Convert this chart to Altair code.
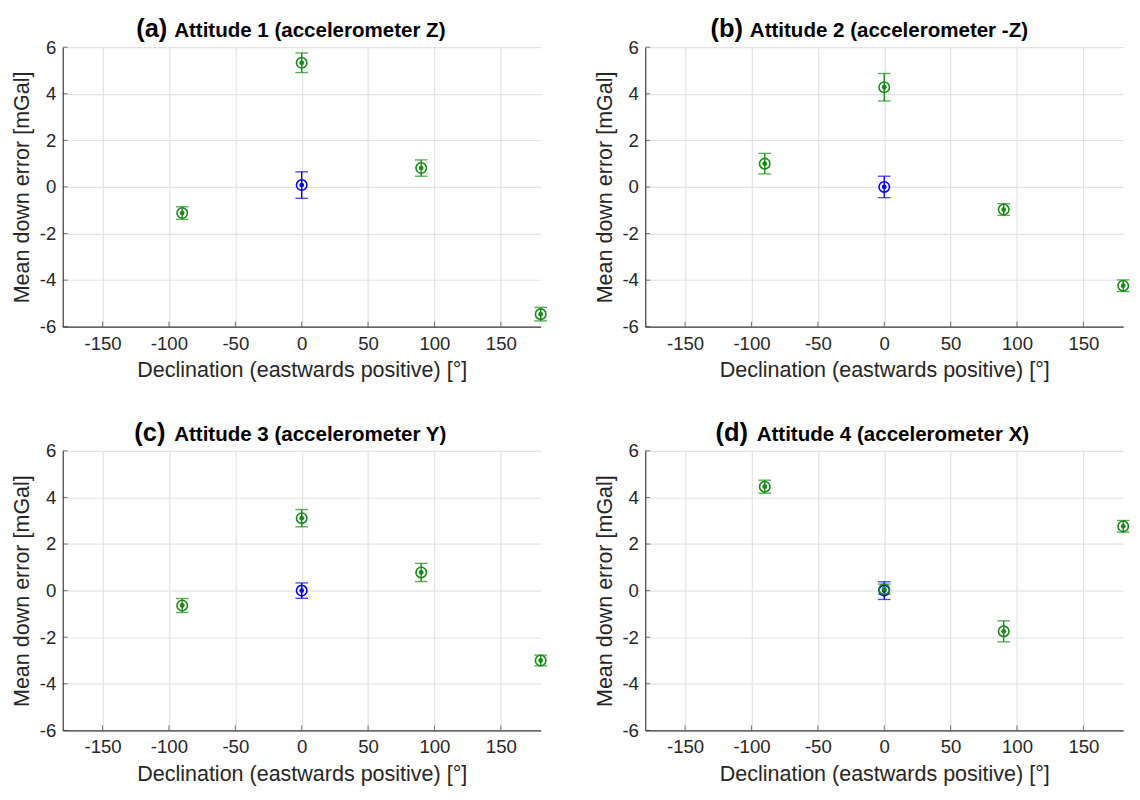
import altair as alt
import pandas as pd

# ---- data ----
declination = [-90, 0, 90, 180]

panel_tags = ["(a)", "(b)", "(c)", "(d)"]
panel_titles = [
    "Attitude 1 (accelerometer Z)",
    "Attitude 2 (accelerometer -Z)",
    "Attitude 3 (accelerometer Y)",
    "Attitude 4 (accelerometer X)",
]

# green series: mean down error and error half-width at each declination
green_mean = [
    [-1.12, 5.33, 0.81, -5.46],
    [1.00, 4.28, -0.97, -4.24],
    [-0.64, 3.11, 0.78, -3.00],
    [4.46, 0.06, -1.75, 2.76],
]
green_err = [
    [0.27, 0.42, 0.35, 0.29],
    [0.44, 0.59, 0.25, 0.25],
    [0.30, 0.37, 0.39, 0.23],
    [0.28, 0.22, 0.45, 0.25],
]
# blue reference point at declination 0
blue_mean = [0.08, 0.0, 0.0, 0.0]
blue_err = [0.57, 0.46, 0.33, 0.38]

x_ticks = [-150, -100, -50, 0, 50, 100, 150]
y_ticks = [-6, -4, -2, 0, 2, 4, 6]

GREEN = "#148c14"
BLUE = "#0000ff"
AXIS = "#3a3a3a"
FONT = "Liberation Sans"
W, H = 489, 286
HYPHEN = "replace(datum.label, '\u2212', '-')"


def panel(i, tag_x, rest_x):
    rows = [dict(x=0, y=blue_mean[i], err=blue_err[i], s="blue", o=0)]
    for d, m, e in zip(declination, green_mean[i], green_err[i]):
        rows.append(dict(x=d, y=m, err=e, s="green", o=1))
    df = pd.DataFrame(rows)
    df["lo"] = df["y"] - df["err"]
    df["hi"] = df["y"] + df["err"]

    xs = alt.Scale(domain=[-180, 180], nice=False, zero=False)
    ys = alt.Scale(domain=[-6, 6], nice=False, zero=False)
    col = alt.Color("s:N", scale=alt.Scale(domain=["blue", "green"], range=[BLUE, GREEN]), legend=None)

    xax = alt.Axis(values=x_ticks, title="Declination (eastwards positive) [°]", grid=True,
                   ticks=False, labelPadding=8, titlePadding=7, labelExpr=HYPHEN)
    yax = alt.Axis(values=y_ticks, title="Mean down error [mGal]", grid=True,
                   ticks=False, labelPadding=7, titlePadding=6, labelExpr=HYPHEN)

    base = alt.Chart(df)
    rule = base.mark_rule(strokeWidth=1.4).encode(
        x=alt.X("x:Q", scale=xs, axis=xax),
        y=alt.Y("lo:Q", scale=ys, axis=yax),
        y2="hi:Q", color=col, order="o:Q")
    cap_lo = base.mark_tick(orient="horizontal", size=13, thickness=1.4).encode(
        x=alt.X("x:Q", scale=xs), y=alt.Y("lo:Q", scale=ys), color=col, order="o:Q")
    cap_hi = base.mark_tick(orient="horizontal", size=13, thickness=1.4).encode(
        x=alt.X("x:Q", scale=xs), y=alt.Y("hi:Q", scale=ys), color=col, order="o:Q")
    ring = base.mark_point(shape="circle", size=115, strokeWidth=1.6, filled=False, opacity=1).encode(
        x=alt.X("x:Q", scale=xs), y=alt.Y("y:Q", scale=ys), stroke=col, order="o:Q")
    dot = base.mark_point(shape="circle", size=24, filled=True, opacity=1).encode(
        x=alt.X("x:Q", scale=xs), y=alt.Y("y:Q", scale=ys), fill=col, order="o:Q")

    # inward tick marks (MATLAB style)
    xt = alt.Chart(pd.DataFrame({"t": x_ticks})).mark_tick(
        orient="vertical", size=5, thickness=1, color=AXIS).encode(
        x=alt.X("t:Q", scale=xs), y=alt.value(H - 2.5))
    yt = alt.Chart(pd.DataFrame({"t": y_ticks})).mark_tick(
        orient="horizontal", size=5, thickness=1, color=AXIS).encode(
        y=alt.Y("t:Q", scale=ys), x=alt.value(2.5))

    tdf = pd.DataFrame({"tag": [panel_tags[i]], "rest": [panel_titles[i]]})
    tag = alt.Chart(tdf).mark_text(font=FONT, fontSize=26, fontWeight="bold", align="right",
                                   baseline="alphabetic", color="#000000").encode(
        text="tag:N", x=alt.value(tag_x), y=alt.value(-10))
    rest = alt.Chart(tdf).mark_text(font=FONT, fontSize=21, fontWeight="bold", align="left",
                                    baseline="alphabetic", color="#000000").encode(
        text="rest:N", x=alt.value(rest_x), y=alt.value(-10))

    return alt.layer(xt, yt, rule, cap_lo, cap_hi, ring, dot, tag, rest).properties(width=W, height=H)


row1 = alt.hconcat(panel(0, 107, 114), panel(1, 100, 107), spacing=45)
row2 = alt.hconcat(panel(2, 105, 114), panel(3, 105, 114), spacing=45)

chart = alt.vconcat(row1, row2, spacing=41).properties(
    padding={"left": 3, "top": 0, "right": 0, "bottom": 0}
).configure_view(stroke=None).configure_axis(
    labelFont=FONT, titleFont=FONT, labelFontSize=19, titleFontSize=22,
    labelColor="#262626", titleColor="#262626", titleFontWeight="normal",
    domainColor=AXIS, domainWidth=1.2, gridColor="#e3e3e3", gridWidth=1.2,
)

chart.save("out.html", embed_options={"renderer": "svg", "actions": False})
